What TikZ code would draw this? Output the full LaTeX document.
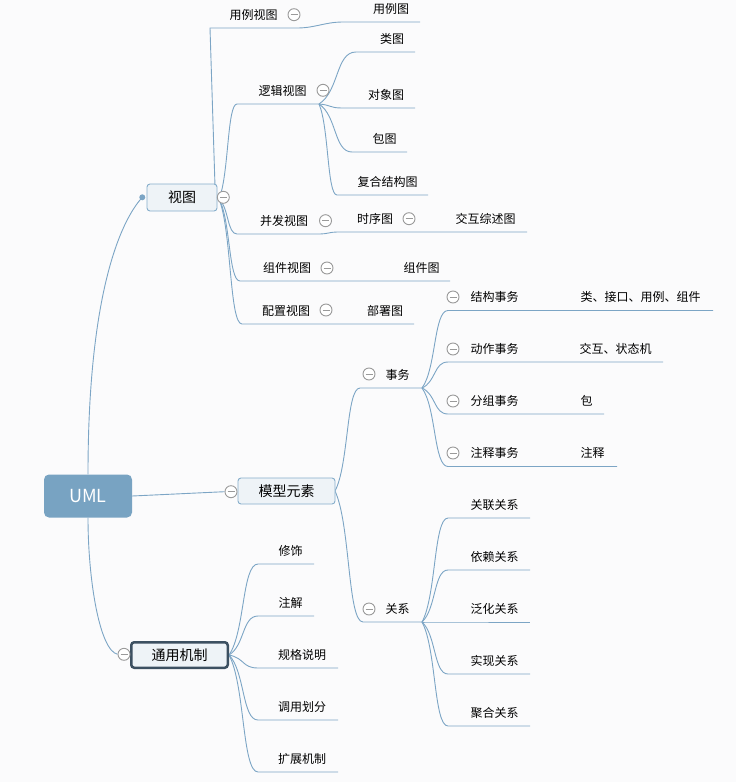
\documentclass[tikz,border=0pt]{standalone}
\usepackage{fontspec}
\setmainfont{Noto Sans CJK SC}
\usetikzlibrary{calc}
\definecolor{bgc}{HTML}{FBFBFC}
\definecolor{linec}{HTML}{7CA5C5}
\definecolor{rootc}{HTML}{78A3C2}
\definecolor{boxfill}{HTML}{EEF3F7}
\definecolor{boxdraw}{HTML}{86AECB}
\definecolor{darkb}{HTML}{3C5061}
\definecolor{circc}{HTML}{9A9A9A}
\pgfdeclarelayer{bg}
\pgfsetlayers{bg,main}
\tikzset{
  conn/.style={draw=linec, line width=0.9pt},
  branch/.style={to path={let \p1=(\tikztostart), \p2=(\tikztotarget) in
     .. controls ({\x1+0.55*(\x2-\x1)},{\y1+0.25*(\y2-\y1)}) and ({\x1+0.45*(\x2-\x1)},\y2) .. (\tikztotarget)}},
  lbl/.style={inner sep=0pt, anchor=base, font=\fontsize{12}{14}\selectfont, text=black},
  topbox/.style={draw=boxdraw, fill=boxfill, rounded corners=3pt, line width=0.9pt,
     font=\fontsize{14}{16}\selectfont, inner sep=0pt},
  coll/.style={circle, draw=circc, fill=white, line width=0.9pt, minimum size=12pt, inner sep=0pt,
     path picture={\draw[circc, line width=0.9pt] ([xshift=-3.5pt]path picture bounding box.center) -- ([xshift=3.5pt]path picture bounding box.center);}},
}
\begin{document}
\begin{tikzpicture}[x=1pt,y=-1pt]
\useasboundingbox (0,0) rectangle (736,782);

% ---------- main topics ----------
\node[fill=rootc, rounded corners=5pt, minimum width=88pt, minimum height=43pt, inner sep=0pt,
      text=white, font=\fontsize{18}{20}\selectfont] (uml) at (88,496) {UML};
\node[topbox, minimum width=70pt, minimum height=27pt] (shitu) at (182,197.5) {视图};
\node[topbox, minimum width=97pt, minimum height=26pt] (moxing) at (286.5,491) {模型元素};
\node[topbox, draw=darkb, line width=2.5pt, rounded corners=3pt, minimum width=96.5pt, minimum height=25.5pt] (tongyong) at (179.5,655) {通用机制};
\fill[linec] (142.3,197.3) circle (3pt);
\coordinate (dot) at (142.3,197.3);

\node[coll] (c-shitu) at (223.3,197.3) {};
\node[coll] (c-moxing) at (231,491.7) {};
\node[coll] (c-tongyong) at (124,654.3) {};

% ---------- labels: 视图 ----------
\node[lbl] (yongli) at (253.5,19) {用例视图};
\node[lbl] (yonglitu) at (391,13) {用例图};
\node[lbl] (luoji) at (282.5,95) {逻辑视图};
\node[lbl] (leitu) at (392,43) {类图};
\node[lbl] (duixiang) at (386,99) {对象图};
\node[lbl] (baotu) at (384.5,143) {包图};
\node[lbl] (fuhe) at (387.5,186) {复合结构图};
\node[lbl] (bingfa) at (284,225) {并发视图};
\node[lbl] (shixu) at (375,223) {时序图};
\node[lbl] (jiaohu) at (485.5,223) {交互综述图};
\node[lbl] (zujianst) at (287,272) {组件视图};
\node[lbl] (zujiantu) at (421.5,272) {组件图};
\node[lbl] (peizhi) at (286,315) {配置视图};
\node[lbl] (bushu) at (385,315) {部署图};

\node[coll] at (294,14.7) {};
\node[coll] at (323,90.3) {};
\node[coll] at (325.5,220.7) {};
\node[coll] at (409,218.7) {};
\node[coll] at (327,268) {};
\node[coll] at (326,310) {};

% ---------- labels: 模型元素 ----------
\node[lbl] (shiwu) at (397.5,379) {事务};
\node[lbl] (jiegou) at (494.5,301.5) {结构事务};
\node[lbl] (jiegouv) at (640.5,301.5) {类、接口、用例、组件};
\node[lbl] (dongzuo) at (494.5,353) {动作事务};
\node[lbl] (dongzuov) at (615.5,353) {交互、状态机};
\node[lbl] (fenzu) at (494.5,405) {分组事务};
\node[lbl] (fenzuv) at (586.5,405) {包};
\node[lbl] (zhushi) at (494.5,457.5) {注释事务};
\node[lbl] (zhushiv) at (592.5,457.5) {注释};
\node[lbl] (guanxi) at (397.5,613) {关系};
\node[lbl] (guanlian) at (494.5,509) {关联关系};
\node[lbl] (yilai) at (494.5,561) {依赖关系};
\node[lbl] (fanhua) at (494.5,613) {泛化关系};
\node[lbl] (shixian) at (494.5,665) {实现关系};
\node[lbl] (juhe) at (494.5,717) {聚合关系};

\node[coll] at (369,374) {};
\node[coll] at (453,297) {};
\node[coll] at (453,349) {};
\node[coll] at (453,401) {};
\node[coll] at (453,453) {};
\node[coll] at (369,609) {};

% ---------- labels: 通用机制 ----------
\node[lbl] (xiushi) at (290.5,555) {修饰};
\node[lbl] (zhujie) at (290.5,607) {注解};
\node[lbl] (guige) at (302,659) {规格说明};
\node[lbl] (diaoyong) at (302,711) {调用划分};
\node[lbl] (kuozhan) at (302,763) {扩展机制};

% ---------- coordinates ----------
\coordinate (vb) at (219,199);
\coordinate (yl-top) at (215,186);
\coordinate (yl-s) at (210,28);
\coordinate (yl-m) at (297,28);
\coordinate (ylt-s) at (343,22);
\coordinate (ylt-e) at (420,22);
\coordinate (lj-s) at (237,104);
\coordinate (lj-e) at (319,104);
\coordinate (lt-s) at (356,52);  \coordinate (lt-e) at (415,52);
\coordinate (dx-s) at (342,108); \coordinate (dx-e) at (415,108);
\coordinate (bt-s) at (352,152); \coordinate (bt-e) at (407,152);
\coordinate (fh-s) at (337,195); \coordinate (fh-e) at (428,195);
\coordinate (bf-s) at (237,234); \coordinate (bf-m) at (320,234);
\coordinate (sx-s) at (337,232); \coordinate (jh-e) at (527,232);
\coordinate (zj-s) at (240,281); \coordinate (zj-e) at (450,281);
\coordinate (pz-s) at (242,324); \coordinate (pz-e) at (414,324);

\coordinate (mx-r) at (335,491);
\coordinate (sw-s) at (360,388); \coordinate (sw-e) at (422,388);
\coordinate (gx-s) at (363,622); \coordinate (gx-e) at (422,622);
\coordinate (jg-s) at (448,310.5); \coordinate (jg-e) at (713,310.5);
\coordinate (dz-s) at (448,362);   \coordinate (dz-e) at (663,362);
\coordinate (fz-s) at (448,414);   \coordinate (fz-e) at (604,414);
\coordinate (zs-s) at (448,466.5); \coordinate (zs-e) at (617,466.5);
\coordinate (gl-s) at (448,518); \coordinate (gl-e) at (530,518);
\coordinate (yi-s) at (448,570); \coordinate (yi-e) at (530,570);
\coordinate (fh2-s) at (448,622); \coordinate (fh2-e) at (530,622);
\coordinate (sh-s) at (448,674); \coordinate (sh-e) at (530,674);
\coordinate (jh2-s) at (448,726); \coordinate (jh2-e) at (530,726);

\coordinate (ty-r) at (229,655);
\coordinate (xs-s) at (258,564); \coordinate (xs-e) at (314,564);
\coordinate (zh-s) at (258,616); \coordinate (zh-e) at (314,616);
\coordinate (gg-s) at (258,668); \coordinate (gg-e) at (338,668);
\coordinate (dy-s) at (258,720); \coordinate (dy-e) at (338,720);
\coordinate (kz-s) at (258,772); \coordinate (kz-e) at (338,772);

% ---------- connectors ----------
\begin{pgfonlayer}{bg}
\fill[bgc] (0,0) rectangle (736,782);
\draw[conn] (uml.north) .. controls +(0,-180) and +(-22,24) .. (dot);
\draw[conn] (uml.south) .. controls +(0,62) and +(-18,-4) .. (c-tongyong.west);
\draw[conn] (uml.east) -- (c-moxing.west);

\draw[conn] (yl-top) -- (yl-s) -- (yl-m) to[out=0,in=180] (ylt-s) -- (ylt-e);
\draw[conn] (vb) to[branch] (lj-s) -- (lj-e);
\draw[conn] (lj-e) to[branch] (lt-s) -- (lt-e);
\draw[conn] (lj-e) to[branch] (dx-s) -- (dx-e);
\draw[conn] (lj-e) to[branch] (bt-s) -- (bt-e);
\draw[conn] (lj-e) to[branch] (fh-s) -- (fh-e);
\draw[conn] (vb) to[branch] (bf-s) -- (bf-m) to[out=0,in=180] (sx-s) -- (jh-e);
\draw[conn] (vb) to[branch] (zj-s) -- (zj-e);
\draw[conn] (vb) to[branch] (pz-s) -- (pz-e);

\draw[conn] (mx-r) to[branch] (sw-s) -- (sw-e);
\draw[conn] (mx-r) to[branch] (gx-s) -- (gx-e);
\draw[conn] (sw-e) to[branch] (jg-s) -- (jg-e);
\draw[conn] (sw-e) to[branch] (dz-s) -- (dz-e);
\draw[conn] (sw-e) to[branch] (fz-s) -- (fz-e);
\draw[conn] (sw-e) to[branch] (zs-s) -- (zs-e);
\draw[conn] (gx-e) to[branch] (gl-s) -- (gl-e);
\draw[conn] (gx-e) to[branch] (yi-s) -- (yi-e);
\draw[conn] (gx-e) to[branch] (fh2-s) -- (fh2-e);
\draw[conn] (gx-e) to[branch] (sh-s) -- (sh-e);
\draw[conn] (gx-e) to[branch] (jh2-s) -- (jh2-e);

\draw[conn] (ty-r) to[branch] (xs-s) -- (xs-e);
\draw[conn] (ty-r) to[branch] (zh-s) -- (zh-e);
\draw[conn] (ty-r) to[branch] (gg-s) -- (gg-e);
\draw[conn] (ty-r) to[branch] (dy-s) -- (dy-e);
\draw[conn] (ty-r) to[branch] (kz-s) -- (kz-e);
\end{pgfonlayer}
\end{tikzpicture}
\end{document}
